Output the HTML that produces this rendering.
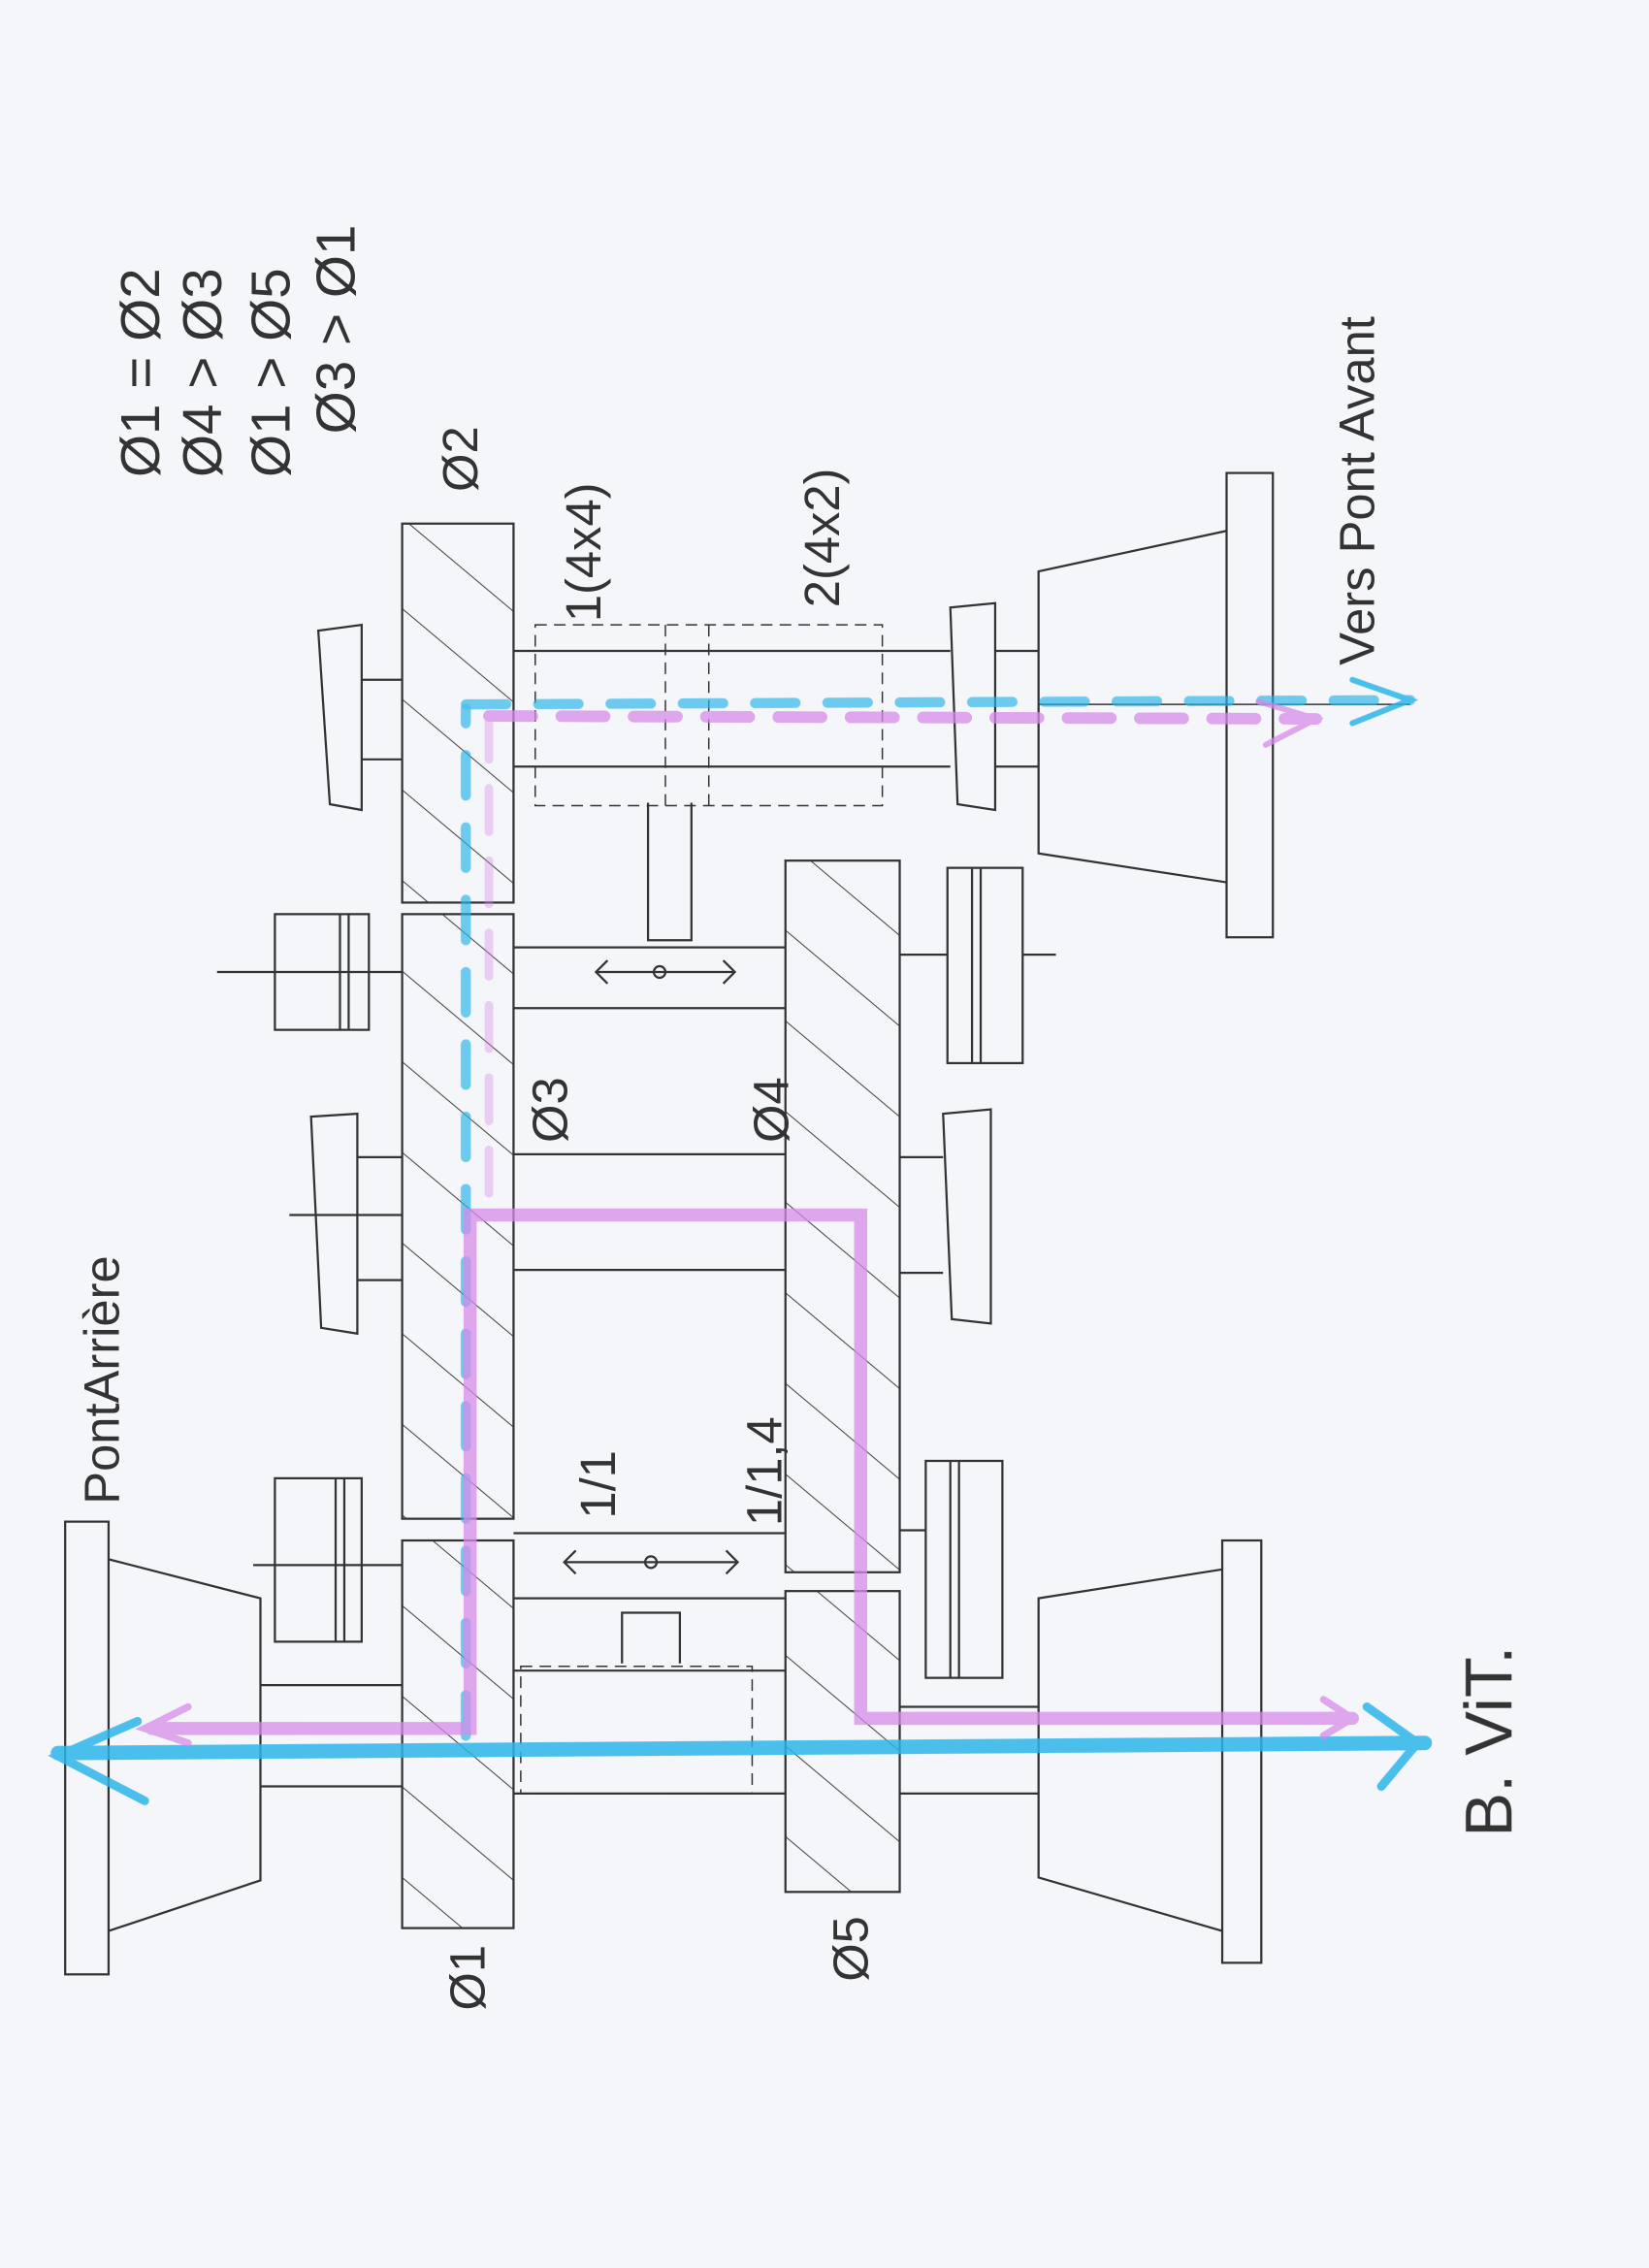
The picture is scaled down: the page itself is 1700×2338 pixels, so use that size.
<!DOCTYPE html>
<html><head><meta charset="utf-8"><style>
html,body{margin:0;padding:0;background:#f5f6fa;}
svg{display:block}
text{font-family:"Liberation Sans",sans-serif;fill:#333;}
</style></head><body>
<svg width="1700" height="2338" viewBox="0 0 1140 1568" xmlns="http://www.w3.org/2000/svg">
<defs>
<pattern id="h" patternUnits="userSpaceOnUse" width="48" height="48" patternTransform="rotate(-50)">
<line x1="0" y1="0" x2="0" y2="48" stroke="#444" stroke-width="1.4"/>
</pattern>
</defs>
<rect width="1140" height="1568" fill="#f5f6fa"/>
<g stroke="#333" stroke-width="1.5" fill="none">
<rect x="45" y="1052" width="30" height="313"/>
<polyline points="75,1078 180,1105 180,1300 75,1335"/>
<rect x="845" y="1065" width="27" height="292"/>
<polyline points="845,1085 718,1105 718,1298 845,1335"/>
<rect x="848" y="327" width="32" height="321"/>
<polyline points="848,367 718,395 718,590 848,610"/>
<rect x="278" y="1065" width="77" height="268" fill="url(#h)"/>
<rect x="278" y="362" width="77" height="262" fill="url(#h)"/>
<rect x="278" y="632" width="77" height="418" fill="url(#h)"/>
<rect x="543" y="595" width="79" height="492" fill="url(#h)"/>
<rect x="543" y="1100" width="79" height="208" fill="url(#h)"/>
<polygon points="220,436 250,432 250,560 228,556"/>
<line x1="250" y1="470" x2="278" y2="470"/><line x1="250" y1="525" x2="278" y2="525"/>
<polygon points="657,420 688,417 688,560 662,556"/>
<line x1="688" y1="450" x2="718" y2="450"/><line x1="688" y1="530" x2="718" y2="530"/>
<polygon points="215,772 247,770 247,922 222,918"/>
<line x1="247" y1="800" x2="278" y2="800"/><line x1="247" y1="885" x2="278" y2="885"/>
<polygon points="652,770 685,767 685,915 658,912"/>
<line x1="622" y1="800" x2="652" y2="800"/><line x1="622" y1="880" x2="652" y2="880"/>
<rect x="190" y="632" width="65" height="80"/><line x1="235" y1="632" x2="235" y2="712"/><line x1="241" y1="632" x2="241" y2="712"/>
<rect x="655" y="600" width="52" height="135"/><line x1="672" y1="600" x2="672" y2="735"/><line x1="678" y1="600" x2="678" y2="735"/>
<rect x="190" y="1022" width="60" height="113"/><line x1="232" y1="1022" x2="232" y2="1135"/><line x1="238" y1="1022" x2="238" y2="1135"/>
<rect x="640" y="1010" width="53" height="150"/><line x1="657" y1="1010" x2="657" y2="1160"/><line x1="663" y1="1010" x2="663" y2="1160"/>
<line x1="150" y1="672" x2="278" y2="672"/><line x1="355" y1="655" x2="543" y2="655"/><line x1="355" y1="697" x2="543" y2="697"/>
<line x1="175" y1="1082" x2="278" y2="1082"/><line x1="355" y1="1060" x2="543" y2="1060"/><line x1="355" y1="1105" x2="543" y2="1105"/>
<line x1="200" y1="840" x2="278" y2="840"/>
<line x1="355" y1="798" x2="543" y2="798"/><line x1="355" y1="878" x2="543" y2="878"/>
<line x1="622" y1="660" x2="655" y2="660"/><line x1="707" y1="660" x2="730" y2="660"/>
<line x1="622" y1="1058" x2="640" y2="1058"/>
<line x1="180" y1="1165" x2="278" y2="1165"/><line x1="180" y1="1235" x2="278" y2="1235"/>
<line x1="355" y1="1155" x2="543" y2="1155"/><line x1="355" y1="1240" x2="543" y2="1240"/>
<line x1="622" y1="1180" x2="718" y2="1180"/><line x1="622" y1="1240" x2="718" y2="1240"/>
<line x1="355" y1="450" x2="657" y2="450"/><line x1="355" y1="530" x2="657" y2="530"/>
<line x1="718" y1="487" x2="975" y2="487" stroke-width="1"/>
<rect x="360" y="1152" width="160" height="88" stroke-dasharray="8,5" stroke-width="1"/>
<rect x="370" y="432" width="240" height="125" stroke-dasharray="8,5" stroke-width="1"/>
<line x1="460" y1="432" x2="460" y2="557" stroke-dasharray="8,5" stroke-width="1"/>
<line x1="490" y1="432" x2="490" y2="557" stroke-dasharray="8,5" stroke-width="1"/>
<polyline points="430,1150 430,1115 470,1115 470,1150"/>
<line x1="390" y1="1080" x2="510" y2="1080"/><circle cx="450" cy="1080" r="4"/>
<polyline points="398,1072 390,1080 398,1088"/><polyline points="502,1072 510,1080 502,1088"/>
<polyline points="448,555 448,650 478,650 478,555"/>
<line x1="412" y1="672" x2="508" y2="672"/><circle cx="456" cy="672" r="4"/>
<polyline points="420,664 412,672 420,680"/><polyline points="500,664 508,672 500,680"/>
</g>
<g stroke="#2bb5e8" fill="none" stroke-linecap="round" opacity="0.85">
<line x1="40" y1="1212" x2="985" y2="1205" stroke-width="10"/>
<polyline points="95,1190 40,1214 100,1245" stroke-width="6"/>
<polyline points="945,1180 980,1205 955,1235" stroke-width="6"/>
<line x1="322" y1="1200" x2="322" y2="490" stroke-width="7" stroke-dasharray="28,22" opacity="0.8"/>
<line x1="322" y1="487" x2="975" y2="484" stroke-width="7" stroke-dasharray="28,22" opacity="0.8"/>
<polyline points="935,470 975,484 935,500" stroke-width="4"/>
</g>
<g stroke="#d58be8" fill="none" stroke-linecap="round" opacity="0.75">
<polyline points="105,1195 325,1195 325,840 595,840 595,1188 935,1188" stroke-width="9"/>
<polyline points="130,1180 100,1195 130,1205" stroke-width="5"/>
<polyline points="915,1175 935,1188 915,1200" stroke-width="5"/>
<line x1="338" y1="495" x2="910" y2="497" stroke-width="8" stroke-dasharray="30,20"/>
<line x1="338" y1="495" x2="338" y2="830" stroke-width="6" stroke-dasharray="30,20" opacity="0.5"/>
<polyline points="870,485 910,497 875,515" stroke-width="4"/>
</g>
<g font-size="34">
<text transform="translate(82,1040) rotate(-90)">PontArrière</text>
<text transform="translate(1045,1270) rotate(-90)" font-size="46">B. ViT.</text>
<text transform="translate(950,460) rotate(-90)" font-size="34">Vers Pont Avant</text>
<text transform="translate(335,1390) rotate(-90)">Ø1</text>
<text transform="translate(600,1370) rotate(-90)">Ø5</text>
<text transform="translate(330,340) rotate(-90)">Ø2</text>
<text transform="translate(392,790) rotate(-90)">Ø3</text>
<text transform="translate(545,790) rotate(-90)">Ø4</text>
<text transform="translate(415,430) rotate(-90)">1(4x4)</text>
<text transform="translate(580,420) rotate(-90)">2(4x2)</text>
<text transform="translate(425,1050) rotate(-90)">1/1</text>
<text transform="translate(540,1055) rotate(-90)">1/1,4</text>
<text transform="translate(110,330) rotate(-90)" font-size="38">Ø1 = Ø2</text>
<text transform="translate(153,330) rotate(-90)" font-size="38">Ø4 &gt; Ø3</text>
<text transform="translate(200,330) rotate(-90)" font-size="38">Ø1 &gt; Ø5</text>
<text transform="translate(245,300) rotate(-90)" font-size="38">Ø3 &gt; Ø1</text>
</g>
</svg>
</body></html>
